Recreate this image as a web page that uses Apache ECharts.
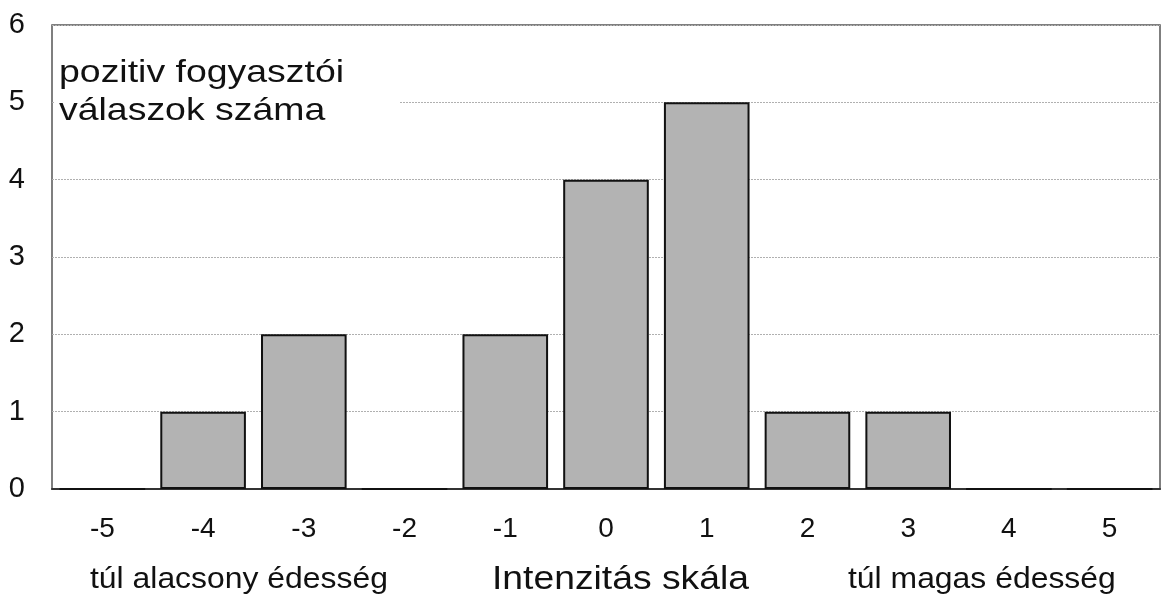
<!DOCTYPE html>
<html>
<head>
<meta charset="utf-8">
<script src="https://cdn.jsdelivr.net/npm/echarts@6/dist/echarts.min.js"></script>
<style>
  html, body { margin: 0; padding: 0; background: #fff; }
  #chart { width: 1174px; height: 595px; }
</style>
</head>
<body>
<div id="chart"></div>
<script>
// Intensity scale categories and number of positive consumer responses
const categories = ['-5', '-4', '-3', '-2', '-1', '0', '1', '2', '3', '4', '5'];
const responses = [0, 1, 2, 0, 2, 4, 5, 1, 1, 0, 0];
const yTicks = [0, 1, 2, 3, 4, 5, 6];

const FONT = '"Liberation Sans", Arial, sans-serif';
const chart = echarts.init(document.getElementById('chart'));

// Horizontally widened text block
function wideText(x, y, text, size, sx, extra) {
  return {
    type: 'text',
    x: x, y: y,
    scaleX: sx, scaleY: 1,
    style: Object.assign({
      text: text,
      fill: '#111',
      font: size + 'px ' + FONT,
      verticalAlign: 'top'
    }, extra || {}),
    z: 11
  };
}

chart.setOption({
  animation: false,
  backgroundColor: '#ffffff',
  grid: {
    left: 52, right: 14, top: 25, bottom: 106,
    show: true, borderColor: '#555', borderWidth: 1.5
  },
  xAxis: {
    type: 'category',
    data: categories,
    axisLine: { show: true, lineStyle: { color: '#333', width: 2 } },
    axisTick: { show: false },
    axisLabel: { color: '#111', fontSize: 28, fontFamily: FONT, margin: 26 }
  },
  yAxis: {
    type: 'value',
    min: yTicks[0],
    max: yTicks[yTicks.length - 1],
    interval: 1,
    axisLine: { show: false },
    axisTick: { show: false },
    axisLabel: { color: '#111', fontSize: 29, fontFamily: FONT, margin: 27 },
    splitLine: { lineStyle: { color: '#b0b0b0', width: 1, type: [2, 1] } }
  },
  series: [{
    type: 'bar',
    data: responses,
    barWidth: '85%',
    itemStyle: { color: '#b3b3b3', borderColor: '#111', borderWidth: 2 }
  }],
  graphic: [
    {
      type: 'rect',
      x: 54, y: 45,
      shape: { width: 346, height: 92 },
      style: { fill: '#ffffff' },
      z: 10
    },
    wideText(59, 54, 'pozitiv fogyasztói\nválaszok száma', 32, 1.17, { lineHeight: 38 }),
    wideText(90, 565, 'túl alacsony édesség', 29, 1.10),
    wideText(492, 563, 'Intenzitás skála', 33, 1.13),
    wideText(848, 565, 'túl magas édesség', 29, 1.10)
  ]
});
</script>
</body>
</html>
